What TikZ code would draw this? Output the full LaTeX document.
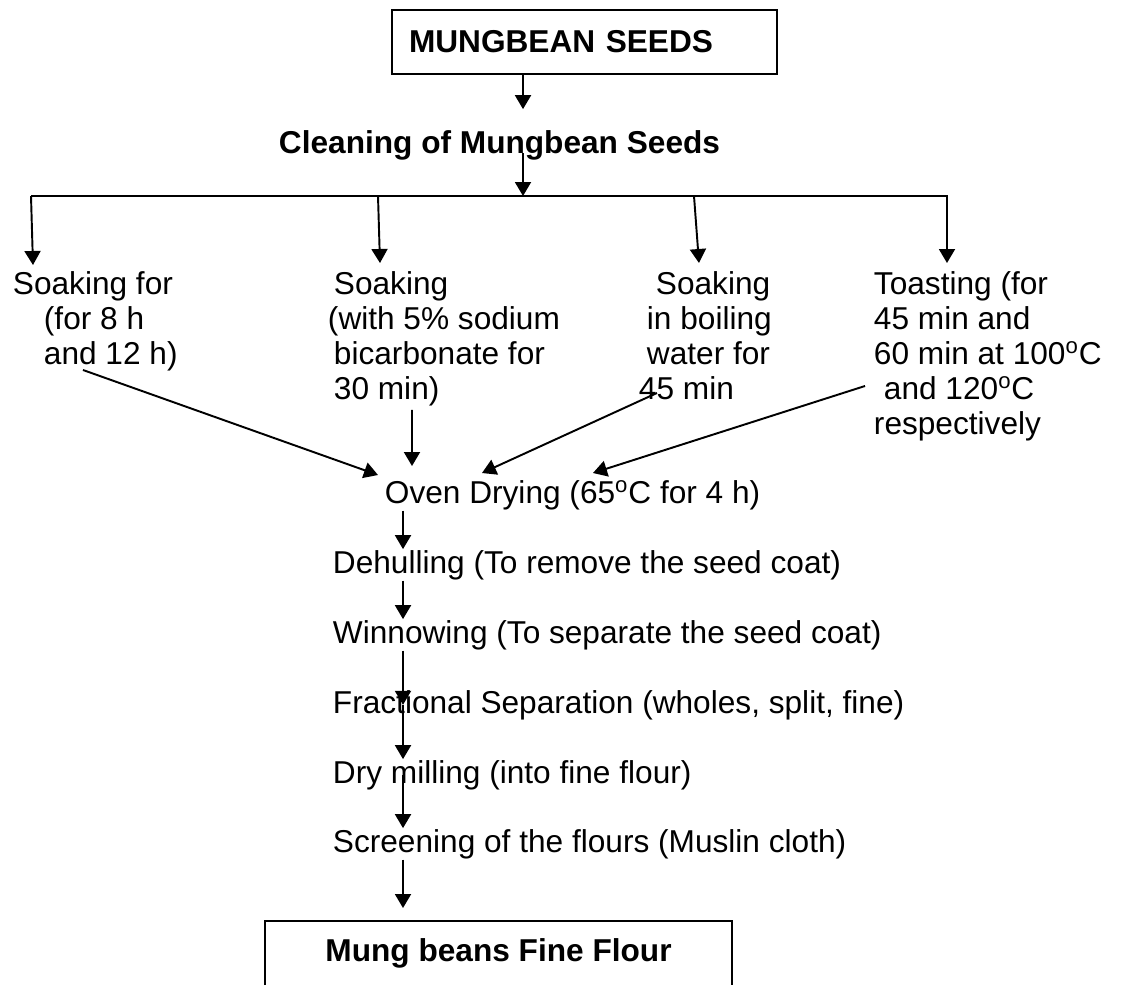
\documentclass[tikz,border=0pt]{standalone}
\usepackage{fontspec}
\setmainfont{Liberation Sans}
\usetikzlibrary{arrows.meta, positioning}
\usetikzlibrary{calc}
\newcommand{\degC}{\textsuperscript{o}C}

\begin{document}
\begin{tikzpicture}[x=0.02cm, y=-0.02cm, line width=1.1pt,
	>={Triangle[length=0.28cm, width=0.32cm]},
	txt/.style={inner sep=0pt, align=left, anchor=north west, font=\fontsize{18}{19.9}\selectfont},
	stage/.style={inner sep=0pt, anchor=base west, font=\fontsize{18}{19.9}\selectfont},
	hdr/.style={inner sep=0pt, anchor=base west, font=\fontsize{18}{19.9}\selectfont\bfseries},
	topbox/.style={draw, text width=7.02cm, inner xsep=0.34cm, minimum height=1.28cm, align=left, font=\fontsize{18}{19.9}\selectfont\bfseries}]

		\useasboundingbox (0,0) rectangle (1141,985);

		\draw (584.5,42) node[topbox] (seeds){MUNGBEAN SEEDS}
		(278,153) node[hdr] (clean){Cleaning of Mungbean Seeds}
		(12,271) node[txt] (soak1) {Soaking for\\ \hspace*{0.62cm}(for 8 h\\ \hspace*{0.62cm}and 12 h)}
		(327,271) node[txt] (soak2) {\hspace*{0.12cm}Soaking\\(with 5\% sodium\\ \hspace*{0.12cm}bicarbonate for\\ \hspace*{0.12cm}30 min)}
		(638,271) node[txt] (soak3) {\hspace*{0.34cm}Soaking\\ \hspace*{0.16cm}in boiling\\ \hspace*{0.16cm}water for\\45 min}
		(873,271) node[txt] (toast) {Toasting (for\\45 min and\\60 min at 100\degC\\ \hspace*{0.2cm}and 120\degC\\respectively}
		(384,503) node[stage] (oven) {Oven Drying (65\degC{} for 4 h)}
		(332,573) node[stage] (dehull) {Dehulling (To remove the seed coat)}
		(332,643) node[stage] (winnow) {Winnowing (To separate the seed coat)}
		(332,713) node[stage] (fraction) {Fractional Separation (wholes, split, fine)}
		(332,783) node[stage] (mill) {Dry milling (into fine flour)}
		(332,852) node[stage] (screen) {Screening of the flours (Muslin cloth)}
		(498.5,961) node[hdr, anchor=base] (flour) {Mung beans Fine Flour};

		% branch line
		\coordinate (split) at (523,196);
		\coordinate (b1) at (31,196);
		\coordinate (b2) at (378,196);
		\coordinate (b3) at (694,196);
		\coordinate (b4) at (947,196);
		\coordinate (spine) at (403,0);
		\coordinate (flourtop) at (498.5,921);

		\draw (265,985) |- (flourtop) -| (732,985);

		\draw[->, shorten >=0.4cm] (seeds.south -| split) -- (clean.north -| split);
		\draw[->] (clean.base -| split) -- (split);
		\draw[->] (b1) -- (b4) -- ([xshift=1.48cm, yshift=0.16cm]toast.north west);
		\draw[->] (b1) -- ([xshift=0.42cm, yshift=0.12cm]soak1.north west);
		\draw[->] (b2) -- ([xshift=1.06cm, yshift=0.16cm]soak2.north west);
		\draw[->] (b3) -- ([xshift=1.22cm, yshift=0.16cm]soak3.north west);

		\draw[->] ([xshift=1.42cm, yshift=-1.98cm]soak1.north west) -- ([xshift=-0.12cm, yshift=0.56cm]oven.base west);
		\draw[->] ([xshift=1.7cm, yshift=-2.78cm]soak2.north west) -- ([xshift=0.56cm, yshift=0.74cm]oven.base west);
		\draw[->] ([xshift=0.38cm, yshift=-2.44cm]soak3.north west) -- ([xshift=1.96cm, yshift=0.6cm]oven.base west);
		\draw[->] ([xshift=-0.16cm, yshift=-2.3cm]toast.north west) -- ([xshift=4.18cm, yshift=0.6cm]oven.base west);

		\draw[->] (oven.south -| spine) -- (dehull.north -| spine);
		\draw[->] (dehull.south -| spine) -- (winnow.north -| spine);
		\draw[->] (winnow.south -| spine) -- (fraction.center -| spine);
		\draw[->] (fraction.center -| spine) -- (mill.north -| spine);
		\draw[->] (mill.center -| spine) -- (screen.north -| spine);
		\draw[->, shorten >=0.26cm] (screen.south -| spine) -- (flourtop -| spine);
	\end{tikzpicture}
\end{document}
